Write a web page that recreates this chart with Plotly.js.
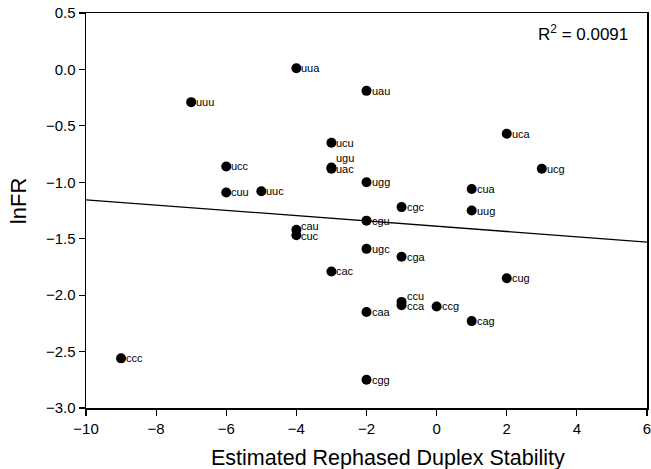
<!DOCTYPE html>
<html><head><meta charset="utf-8">
<script src="https://cdn.plot.ly/plotly-3.0.1.min.js"></script>
<style>html,body{margin:0;padding:0;background:#fff}#chart{width:651px;height:469px}</style>
</head><body><div id="chart"></div>
<script>
// Data
const codons = ["uua","uuu","ucu","ugu","uac","ucc","cuu","uuc","cau","cuc","cac","ccc",
                "uau","uca","ucg","ugg","cua","cgc","uug","cgu","ugc","cga","cug",
                "ccu","cca","ccg","caa","cag","cgg"];
const stability = [-4,-7,-3,-3,-3,-6,-6,-5,-4,-4,-3,-9,
                   -2,2,3,-2,1,-1,1,-2,-2,-1,2,
                   -1,-1,0,-2,1,-2];
const lnFR = [0.01,-0.29,-0.65,-0.87,-0.88,-0.86,-1.09,-1.08,-1.42,-1.47,-1.79,-2.56,
              -0.19,-0.57,-0.88,-1.00,-1.06,-1.22,-1.25,-1.34,-1.59,-1.66,-1.85,
              -2.06,-2.09,-2.10,-2.15,-2.23,-2.75];
// Regression line endpoints
const fitX = [-10, 6];
const fitY = [-1.155, -1.53];
const r2Text = "R<sup>2</sup> = 0.0091";
const xTitle = "Estimated Rephased Duplex Stability";
const yTitle = "lnFR";

// label vertical offsets (px) for crowded points (styling)
const labelShift = {ugu: 10, cau: 4, cuc: -1, ccu: 6, cca: -1};

const FONT = "Arial, 'Liberation Sans', Helvetica, sans-serif";

const traces = [
  {x: fitX, y: fitY, mode: "lines", line: {color: "#000", width: 1.3}, hoverinfo: "skip", showlegend: false},
  {x: stability, y: lnFR, mode: "markers", marker: {color: "#000", size: 10}, showlegend: false}
];

const annotations = codons.map((c, i) => ({
  x: stability[i], y: lnFR[i], xref: "x", yref: "y",
  text: c, showarrow: false, xanchor: "left", yanchor: "middle",
  xshift: 3, yshift: labelShift[c] || 0,
  font: {family: FONT, size: 11, color: "#000"}
}));
annotations.push({
  xref: "paper", yref: "paper", x: 0.97, y: 0.95, xanchor: "right", yanchor: "middle",
  text: r2Text, showarrow: false, font: {family: FONT, size: 17, color: "#000"}
});
annotations.push({
  xref: "paper", yref: "paper", x: 0.538, y: -0.127, xanchor: "center", yanchor: "middle",
  text: xTitle, showarrow: false, font: {family: FONT, size: 21.5, color: "#000"}
});
annotations.push({
  xref: "paper", yref: "paper", x: -0.121, y: 0.524, xanchor: "center", yanchor: "middle",
  text: yTitle, textangle: -90, showarrow: false, font: {family: FONT, size: 22, color: "#000"}
});

const layout = {
  width: 651, height: 469,
  margin: {l: 86, r: 4, t: 13, b: 61, pad: 0},
  paper_bgcolor: "#fff", plot_bgcolor: "#fff",
  font: {family: FONT, color: "#000"},
  xaxis: {
    range: [-10, 6], dtick: 2, tick0: -10, showgrid: false, zeroline: false,
    showline: true, linecolor: "#000", linewidth: 1.5, mirror: true,
    ticks: "outside", ticklen: 6, tickwidth: 1.2, tickcolor: "#000",
    tickfont: {family: FONT, size: 15}, ticklabeloverflow: "allow"
  },
  yaxis: {
    range: [-3, 0.5], dtick: 0.5, tick0: -3, tickformat: ".1f", showgrid: false, zeroline: false,
    showline: true, linecolor: "#000", linewidth: 1.5, mirror: true,
    ticks: "outside", ticklen: 6, tickwidth: 1.2, tickcolor: "#000",
    tickfont: {family: FONT, size: 15}
  },
  annotations: annotations
};

Plotly.newPlot("chart", traces, layout, {displayModeBar: false, staticPlot: true});
</script></body></html>
